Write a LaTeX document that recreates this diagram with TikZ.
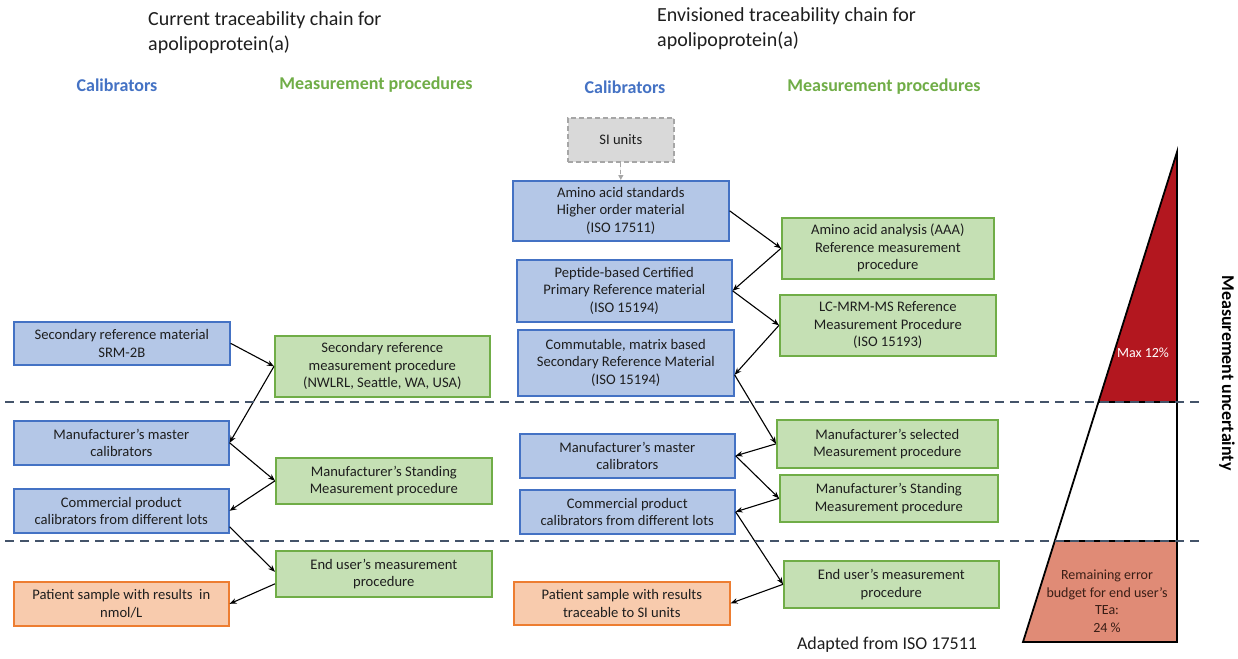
\documentclass[tikz,border=0pt]{standalone}
\usepackage{fontspec}
\setmainfont{Carlito}
\usetikzlibrary{arrows.meta,calc}
\definecolor{bfill}{HTML}{B4C7E7}
\definecolor{bdraw}{HTML}{4472C4}
\definecolor{gfill}{HTML}{C5E0B4}
\definecolor{gdraw}{HTML}{70AD47}
\definecolor{ofill}{HTML}{F8CBAD}
\definecolor{odraw}{HTML}{ED7D31}
\definecolor{sifill}{HTML}{D9D9D9}
\definecolor{sidraw}{HTML}{A6A6A6}
\definecolor{divc}{HTML}{44546A}
\definecolor{txt}{HTML}{1E1E1E}
\definecolor{dred}{HTML}{B3171F}
\definecolor{salm}{HTML}{E08B76}
\definecolor{remtxt}{HTML}{3A1E16}
\begin{document}
\begin{tikzpicture}[x=1pt,y=-1pt,
  box/.style={draw, line width=1.6pt, anchor=north west, inner sep=0pt, align=center,
    font=\fontsize{14.6}{17.5}\selectfont, text=txt},
  cal/.style={box, fill=bfill, draw=bdraw},
  mp/.style={box, fill=gfill, draw=gdraw},
  pat/.style={box, fill=ofill, draw=odraw},
  sibox/.style={box, fill=sifill, draw=sidraw, dash pattern=on 5pt off 3pt},
  arr/.style={-{Stealth[length=7pt,width=5.5pt]}, line width=1.1pt, black},
  siarr/.style={-{Triangle[length=5pt,width=5pt]}, line width=1.3pt, draw=sidraw, fill=sidraw, dash pattern=on 4pt off 3pt},
  divider/.style={draw=divc, line width=2.2pt, dash pattern=on 9pt off 6pt},
  head/.style={inner sep=0pt, font=\fontsize{18}{22}\selectfont\bfseries},
  title/.style={anchor=north west, align=left, inner sep=0pt, font=\fontsize{20}{25.5}\selectfont, text=txt}
]
\useasboundingbox (0,0) rectangle (1238,658);
\fill[white] (0,0) rectangle (1238,658);

% titles and headings
\node[title] (t1) at (148,11) {Current traceability chain for\\apolipoprotein(a)};
\node[title] (t2) at (657,7) {Envisioned traceability chain for\\apolipoprotein(a)};
\node[head, text=bdraw] (hcal1) at (117,85) {Calibrators};
\node[head, text=gdraw] (hmp1) at (376,85) {Measurement procedures};
\node[head, text=bdraw] (hcal2) at (625,87) {Calibrators};
\node[head, text=gdraw] (hmp2) at (884,87) {Measurement procedures};

% left chain
\node[cal, minimum width=216pt, minimum height=43pt] (srm) at (13,321) {Secondary reference material\\SRM-2B};
\node[mp, minimum width=215pt, minimum height=61pt] (secmp) at (274,335) {Secondary reference\\measurement procedure\\(NWLRL, Seattle, WA, USA)};
\node[cal, minimum width=215pt, minimum height=44pt] (lmaster) at (13,420) {Manufacturer’s master\\calibrators};
\node[mp, minimum width=216pt, minimum height=46pt] (lstand) at (275,457) {Manufacturer’s Standing\\Measurement procedure};
\node[cal, minimum width=215pt, minimum height=44pt] (lcomm) at (13,488) {Commercial product\\calibrators from different lots};
\node[mp, minimum width=216pt, minimum height=46pt] (lend) at (275,550) {End user’s measurement\\procedure};
\node[pat, minimum width=215pt, minimum height=44pt] (lpat) at (13,581) {Patient sample with results~ in\\nmol/L};

% right chain
\node[sibox, minimum width=106pt, minimum height=44pt] (si) at (567,117) {SI units};
\node[cal, minimum width=216pt, minimum height=60pt] (aastd) at (512,180) {Amino acid standards\\Higher order material\\(ISO 17511)};
\node[mp, minimum width=212pt, minimum height=61pt] (aaa) at (781,217) {Amino acid analysis (AAA)\\Reference measurement\\procedure};
\node[cal, minimum width=215pt, minimum height=62pt] (pep) at (516,259) {Peptide-based Certified\\Primary Reference material\\(ISO 15194)};
\node[mp, minimum width=216pt, minimum height=61pt] (lc) at (779,294) {LC-MRM-MS Reference\\Measurement Procedure\\(ISO 15193)};
\node[cal, minimum width=216pt, minimum height=66pt] (comm) at (517,329) {Commutable, matrix based\\Secondary Reference Material\\(ISO 15194)};
\node[mp, minimum width=221pt, minimum height=48pt] (sel) at (776,419) {Manufacturer’s selected\\Measurement procedure};
\node[cal, minimum width=215pt, minimum height=44pt] (rmaster) at (519,433) {Manufacturer’s master\\calibrators};
\node[mp, minimum width=218pt, minimum height=47pt] (rstand) at (779,474) {Manufacturer’s Standing\\Measurement procedure};
\node[cal, minimum width=215pt, minimum height=44pt] (rcomm) at (519,489) {Commercial product\\calibrators from different lots};
\node[mp, minimum width=215pt, minimum height=47pt] (rend) at (783,560) {End user’s measurement\\procedure};
\node[pat, minimum width=216pt, minimum height=43pt] (rpat) at (513,581) {Patient sample with results\\traceable to SI units};

% left arrows
\draw[arr] (srm.east) -- (secmp.west);
\draw[arr] (secmp.west) -- (lmaster.east);
\draw[arr] (lmaster.east) -- (lstand.west);
\draw[arr] (lstand.west) -- (lcomm.east);
\draw[arr] ($(lcomm.east)+(0,16)$) -- ($(lend.west)+(0,-2)$);
\draw[arr] ($(lend.west)+(0,10)$) -- (lpat.east);

% right arrows
\draw[siarr] (si.south) -- (aastd.north);
\draw[arr] (aastd.east) -- (aaa.west);
\draw[arr] (aaa.west) -- (pep.east);
\draw[arr] (pep.east) -- (lc.west);
\draw[arr] (lc.west) -- ($(comm.east)+(0,12)$);
\draw[arr] ($(comm.east)+(0,12)$) -- (sel.west);
\draw[arr] (sel.west) -- (rmaster.east);
\draw[arr] (rmaster.east) -- (rstand.west);
\draw[arr] (rstand.west) -- (rcomm.east);
\draw[arr] (rcomm.east) -- (rend.west);
\draw[arr] (rend.west) -- (rpat.east);

% uncertainty triangle
\fill[dred] (1177,152) -- (1098.4,402) -- (1177,402) -- cycle;
\fill[salm] (1054.7,541) -- (1177,541) -- (1177,642) -- (1023,642) -- cycle;
\draw[line width=1.5pt] (1098.4,402) -- (1177,402);
\draw[line width=1.5pt] (1054.7,541) -- (1177,541);
\draw[line width=1.8pt, line join=miter] (1177,152) -- (1177,642) -- (1023,642) -- cycle;

% dividers
\draw[divider] (5,402) -- (1203,402);
\draw[divider] (5,541) -- (1203,541);

\node[text=white, font=\fontsize{14}{17}\selectfont] (maxu) at (1143,353) {Max 12\%};
\node[align=center, text=remtxt, font=\fontsize{14}{17.5}\selectfont] (rem) at (1107,601) {Remaining error\\budget for end user’s\\TEa:\\24 \%};
\node[rotate=-90, text=black, font=\fontsize{18}{22}\selectfont\bfseries] (mu) at (1227,373) {Measurement uncertainty};
\node[text=txt, font=\fontsize{18}{22}\selectfont] (adapted) at (887,645) {Adapted from ISO 17511};
\end{tikzpicture}
\end{document}
